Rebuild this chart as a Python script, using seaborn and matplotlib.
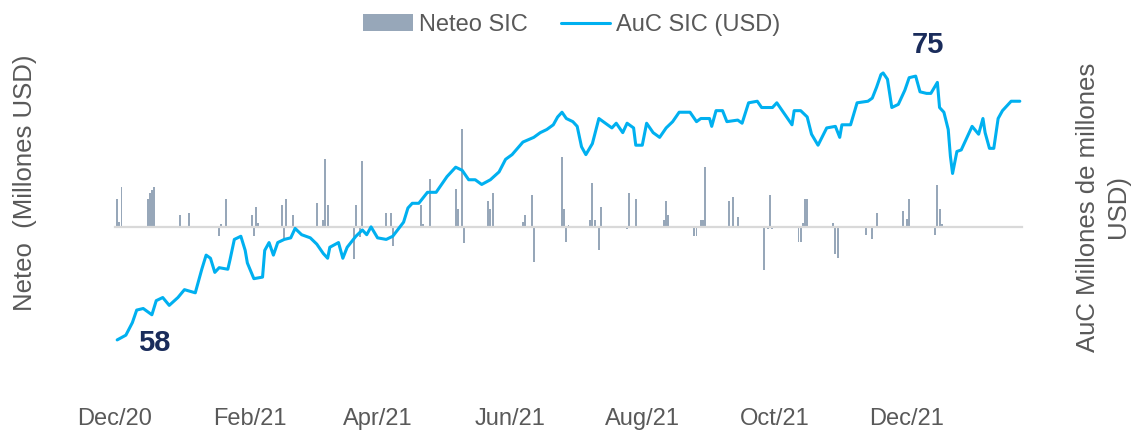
import pandas as pd
import numpy as np
import matplotlib.pyplot as plt
import matplotlib.dates as mdates
from matplotlib.patches import Patch
from matplotlib.lines import Line2D
import seaborn as sns


start = pd.Timestamp('2020-12-01')

# AuC SIC (USD): day offset from 1-Dec-2020 and value
auc_day = [1, 5, 8, 10, 13, 17, 19, 22, 25, 29,
           32, 37, 40, 42, 44, 46, 48, 52, 53, 55,
           58, 60, 61, 64, 68, 69, 71, 73, 75, 78,
           81, 83, 86, 90, 93, 96, 98, 99, 103, 105,
           107, 111, 114, 116, 118, 121, 125, 128, 133, 135,
           137, 140, 144, 148, 151, 153, 157, 160, 163, 166,
           169, 173, 177, 180, 183, 188, 193, 196, 199, 202,
           204, 206, 208, 211, 213, 215, 217, 220, 223, 227,
           229, 231, 234, 236, 239, 240, 243, 245, 248, 251,
           254, 257, 260, 265, 268, 270, 274, 275, 277, 280,
           282, 287, 289, 292, 296, 298, 303, 305, 308, 312,
           313, 316, 319, 321, 324, 328, 332, 334, 335, 339,
           342, 347, 349, 351, 353, 354, 356, 358, 361, 364,
           366, 369, 371, 374, 376, 379, 380, 382, 384, 385,
           386, 387, 388, 390, 392, 395, 398, 400, 401, 403,
           405, 407, 409, 413, 415, 417]
auc_value = [58.0, 58.3, 59.1, 59.9, 60.0, 59.6, 60.5, 60.7, 60.2, 60.7,
             61.2, 61.0, 62.5, 63.4, 63.2, 62.3, 62.6, 62.5, 63.1, 64.4,
             64.6, 63.7, 62.9, 61.9, 62.0, 63.7, 64.2, 63.4, 64.2, 64.4,
             64.5, 65.1, 64.7, 64.5, 64.1, 63.5, 63.2, 63.9, 64.2, 63.2,
             63.9, 64.6, 65.0, 64.7, 65.2, 64.5, 64.4, 64.6, 65.5, 66.4,
             66.7, 66.7, 67.4, 67.4, 68.0, 68.4, 69.0, 68.8, 68.2, 68.2,
             67.9, 68.2, 68.7, 69.5, 69.8, 70.6, 70.9, 71.2, 71.4, 71.7,
             72.2, 72.5, 72.1, 71.9, 71.6, 70.3, 69.8, 70.5, 72.1, 71.7,
             71.5, 71.8, 71.2, 71.8, 71.5, 70.4, 70.4, 71.8, 71.2, 70.9,
             71.5, 71.9, 72.5, 72.5, 71.9, 72.1, 72.1, 71.6, 72.6, 72.6,
             71.9, 72.0, 71.8, 73.1, 73.2, 72.8, 72.8, 73.1, 72.5, 71.7,
             72.6, 72.6, 72.2, 71.1, 70.4, 71.5, 71.6, 70.9, 71.7, 71.7,
             73.1, 73.2, 73.4, 74.1, 74.9, 75.0, 74.6, 72.8, 73.0, 73.9,
             74.7, 74.8, 73.8, 73.7, 73.7, 74.4, 72.8, 72.5, 71.4, 69.7,
             68.6, 69.3, 70.0, 70.1, 70.7, 71.6, 71.1, 72.1, 71.2, 70.2,
             70.2, 72.1, 72.6, 73.2, 73.2, 73.2]

# Neteo SIC (Millones USD, estimated scale): day offset and daily flow
neteo_day = [1, 2, 3, 15, 16, 17, 18, 30, 34, 48, 49, 51, 63, 64, 65, 66,
             77, 78, 79, 82, 93, 96, 97, 98, 110, 111, 113, 114, 125, 127, 128,
             141, 142, 145, 157, 158, 160, 161, 172, 173, 174, 188, 189, 192, 193,
             206, 207, 208, 209, 219, 220, 221, 223, 224, 236, 237, 240,
             253, 254, 255, 267, 268, 270, 271, 272, 283, 285, 287,
             299, 301, 302, 303, 315, 316, 317, 318, 319, 331, 332, 333,
             346, 349, 351, 363, 365, 366, 378, 379, 380, 381]
neteo_value = [28, 5, 40, 28, 34, 37, 40, 12, 14, -9, 3, 28, 12, -9, 20, 4,
               22, -12, 28, 12, 24, 7, 68, 22, -32, 22, -10, 66, 14, 14, -19,
               22, 3, 48, 38, 18, 98, -16, 26, 18, 34, 5, 12, 32, -35,
               70, 18, -15, 2, 7, 44, 7, -23, 20, -2, 34, 28,
               7, 26, 12, -9, -9, 7, 7, 60, 26, 30, 10,
               -43, -2, 32, -2, -15, -15, 4, 28, 28, 4, -27, -31,
               -8, -12, 14, 16, 8, 28, -8, 42, 18, 3]

label_58 = '58'
label_75 = '75'

auc = pd.DataFrame({'fecha': start + pd.to_timedelta(auc_day, unit='D'),
                    'auc': auc_value})
neteo = pd.DataFrame({'fecha': start + pd.to_timedelta(neteo_day, unit='D'),
                      'neteo': neteo_value})

sns.set_style('white')
plt.rcParams['font.family'] = ['Liberation Sans', 'DejaVu Sans']

text_grey = '#595959'
axis_grey = '#d9d9d9'
bar_color = '#97a7b9'
line_color = '#00b0f0'
navy = '#1a2c5b'

fig = plt.figure(figsize=(11.36, 4.34), dpi=100)
ax = fig.add_axes([115 / 1136, 1 - 398 / 434, 907 / 1136, 358 / 434])

ax.bar(neteo['fecha'], neteo['neteo'], width=0.9, color=bar_color, linewidth=0)
ax.set_ylim(-171, 187)

x_end = auc['fecha'].max() + pd.Timedelta(days=1)
ax.set_xlim(start, x_end)

# zero axis with month tick marks
for s in ['left', 'right', 'top']:
    ax.spines[s].set_visible(False)
ax.spines['bottom'].set_position(('data', 0))
ax.spines['bottom'].set_color(axis_grey)
ax.spines['bottom'].set_linewidth(1.6)
tick_dates = list(pd.date_range(start, '2021-12-01', freq='MS')) + [x_end]
ax.set_xticks(tick_dates)
ax.tick_params(axis='x', direction='out', length=4.5, width=1,
               color=axis_grey, labelbottom=False)
ax.set_yticks([])
ax.set_xlabel('')
ax.set_ylabel('')

# date labels at the bottom of the plot area
sec = ax.secondary_xaxis('bottom')
sec.xaxis.set_major_locator(mdates.MonthLocator(bymonth=[12, 2, 4, 6, 8, 10]))
sec.xaxis.set_major_formatter(mdates.DateFormatter('%b/%y'))
sec.tick_params(length=0, pad=7, labelsize=17, labelcolor=text_grey)
sec.spines['bottom'].set_visible(False)

ax2 = ax.twinx()
sns.lineplot(data=auc, x='fecha', y='auc', ax=ax2, color=line_color,
             linewidth=2.2, legend=False)
ax2.set_ylim(54.3, 77.1)
ax2.set_xlim(start, x_end)
ax2.set_yticks([])
ax2.set_xlabel('')
ax2.set_ylabel('')
for s in ax2.spines.values():
    s.set_visible(False)

first = auc.iloc[0]
top = auc.loc[auc['auc'].idxmax()]
ax2.annotate(label_58, (first['fecha'], first['auc']), xytext=(27, -2),
             textcoords='offset points', ha='center', va='center',
             fontsize=21, fontweight='bold', color=navy)
ax2.annotate(label_75, (top['fecha'], top['auc']), xytext=(32, 20),
             textcoords='offset points', ha='center', va='center',
             fontsize=21, fontweight='bold', color=navy)

handles = [Patch(facecolor=bar_color, edgecolor='none'),
           Line2D([0], [0], color=line_color, linewidth=2.2)]
fig.legend(handles, ['Neteo SIC', 'AuC SIC (USD)'], loc='center',
           bbox_to_anchor=(0.5035, 1 - 25 / 434), ncol=2, frameon=False,
           fontsize=17, labelcolor=text_grey, handlelength=2.1,
           handletextpad=0.25, columnspacing=1.4)

fig.text(25 / 1136, 1 - 183 / 434, 'Neteo  (Millones USD)', rotation=90,
         ha='center', va='center', fontsize=18.5, color=text_grey)
fig.text(1103 / 1136, 1 - 207 / 434, 'AuC Millones de millones\nUSD)',
         rotation=90, ha='center', va='center', multialignment='center',
         fontsize=18.5, color=text_grey, linespacing=1.35)

fig.savefig('out.png', dpi=100)
